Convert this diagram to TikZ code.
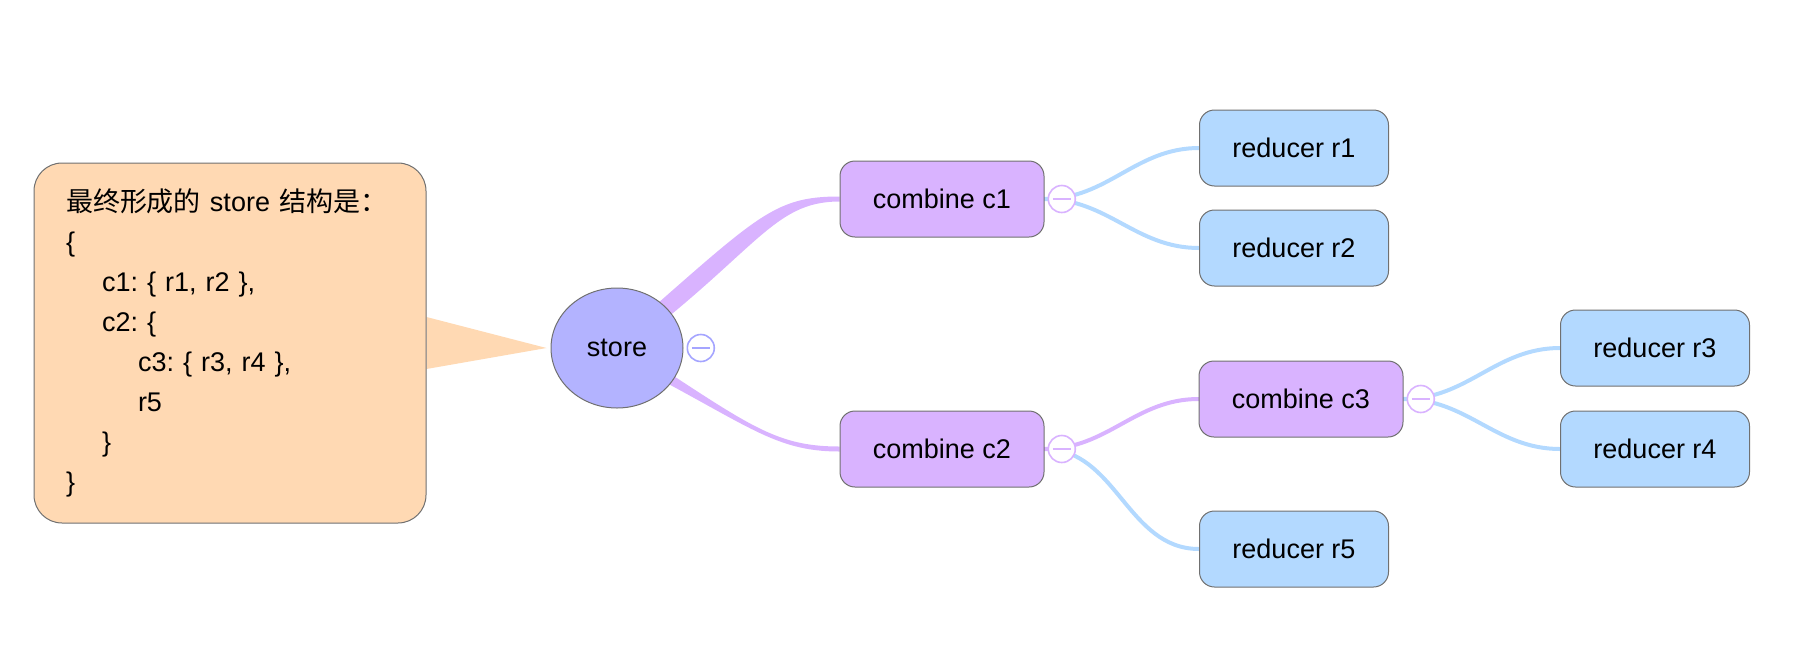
\documentclass[tikz,border=0pt]{standalone}
\usepackage{fontspec}
\setmainfont{Liberation Sans}
\newfontfamily\cjk{Noto Sans CJK SC}
\usepackage{tikz}
\usetikzlibrary{positioning, shapes.geometric, calc, backgrounds}
\definecolor{storecolor}{HTML}{B3B3FF}
\definecolor{combinecolor}{HTML}{D9B3FF}
\definecolor{reducercolor}{HTML}{B3D9FF}
\definecolor{notecolor}{HTML}{FFD9B3}
\definecolor{bordercolor}{HTML}{707070}
\frenchspacing

\begin{document}
\begin{tikzpicture}[
    x=0.5pt, y=-0.5pt,
    font=\fontsize{13.5}{20}\selectfont,
    box/.style={draw=bordercolor, rectangle, rounded corners=7.5pt, minimum height=38pt, line width=0.5pt, align=center},
    combine/.style={box, fill=combinecolor, minimum width=102pt},
    reducer/.style={box, fill=reducercolor, minimum width=94.5pt},
    btn/.style={draw=#1, circle, fill=white, line width=0.8pt, minimum size=13.5pt, inner sep=0pt,
        path picture={\draw[#1, line width=0.6pt] ([xshift=-4.5pt]path picture bounding box.center) -- ([xshift=4.5pt]path picture bounding box.center);}},
    link/.style={line width=2pt, line cap=round},
    note/.style={draw=bordercolor, fill=notecolor, rectangle, rounded corners=14pt, line width=0.5pt, minimum width=196pt, minimum height=180pt, text width=164pt, inner xsep=16pt, align=left}
]
    \useasboundingbox (0,0) rectangle (1796,670);

    % Commentaire
    \node[note] (note) at (230,343) {{\cjk 最终形成的} store {\cjk 结构是：}\\
        \{\\
        \hspace*{18pt}c1: \{ r1, r2 \},\\
        \hspace*{18pt}c2: \{\\
        \hspace*{36pt}c3: \{ r3, r4 \},\\
        \hspace*{36pt}r5\\
        \hspace*{18pt}\}\\
        \}};

    % Racine
    \node[ellipse, draw=bordercolor, fill=storecolor, line width=0.5pt, minimum width=66pt, minimum height=60pt] (store) at (617,348) {store};

    % Combine
    \node[combine] (c1) at (942,199) {combine c1};
    \node[combine] (c2) at (942,449) {combine c2};
    \node[combine] (c3) at (1301,399) {combine c3};

    % Reducer
    \node[reducer] (r1) at (1294,148) {reducer r1};
    \node[reducer] (r2) at (1294,248) {reducer r2};
    \node[reducer] (r3) at (1655,348) {reducer r3};
    \node[reducer] (r4) at (1655,449) {reducer r4};
    \node[reducer] (r5) at (1294,549) {reducer r5};

    % Liens
    \begin{scope}[on background layer]
        \fill[notecolor] ([yshift=13pt]note.east) -- ([xshift=-2pt]store.west) -- ([yshift=-13pt]note.east) -- cycle;
        \fill[combinecolor] ($(store.center)+(0,-9)$) .. controls +(140,-122) and +(-68,0) .. ($(c1.west)+(0,-2.5)$)
            -- ($(c1.west)+(0,2.5)$) .. controls +(-68,0) and +(140,-104) .. ($(store.center)+(0,9)$) -- cycle;
        \fill[combinecolor] ($(store.center)+(0,-9)$) .. controls +(130,84) and +(-68,0) .. ($(c2.west)+(0,-2.5)$)
            -- ($(c2.west)+(0,2.5)$) .. controls +(-68,0) and +(130,66) .. ($(store.center)+(0,9)$) -- cycle;
        \draw[link, reducercolor] (c1.east) to[out=0, in=180] (r1.west);
        \draw[link, reducercolor] (c1.east) to[out=0, in=180] (r2.west);
        \draw[link, reducercolor] (c2.east) to[out=0, in=180] (r5.west);
        \draw[link, combinecolor] (c2.east) to[out=0, in=180] (c3.west);
        \draw[link, reducercolor] (c3.east) to[out=0, in=180] (r3.west);
        \draw[link, reducercolor] (c3.east) to[out=0, in=180] (r4.west);
    \end{scope}

    % Boutons
    \node[btn=storecolor!92!blue, right=1.5pt of store] (storebtn) {};
    \node[btn=combinecolor, right=1.5pt of c1] (c1btn) {};
    \node[btn=combinecolor, right=1.5pt of c2] (c2btn) {};
    \node[btn=combinecolor, right=1.5pt of c3] (c3btn) {};
\end{tikzpicture}
\end{document}
